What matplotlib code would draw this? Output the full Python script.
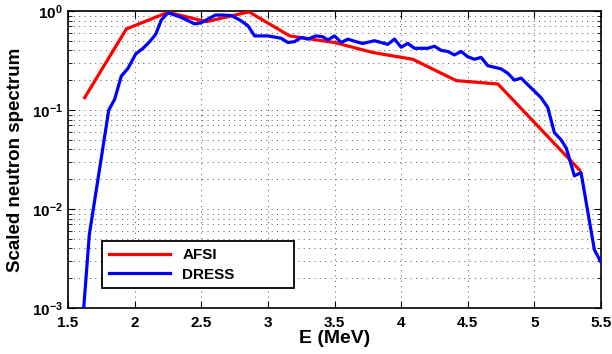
import math
import matplotlib
matplotlib.use('Agg')
import matplotlib.pyplot as plt
from matplotlib.ticker import FixedLocator, LogLocator, FuncFormatter, NullFormatter

plt.rcParams['font.family'] = ['Liberation Sans', 'DejaVu Sans']
plt.rcParams['font.weight'] = 'bold'
plt.rcParams['mathtext.fontset'] = 'custom'
plt.rcParams['mathtext.rm'] = 'Liberation Sans:bold'
plt.rcParams['mathtext.bf'] = 'Liberation Sans:bold'
plt.rcParams['mathtext.it'] = 'Liberation Sans:bold'

# AFSI spectrum (polyline vertices)
afsi_E = [1.625, 1.938, 2.25, 2.538, 2.858, 3.163, 3.5, 3.79, 4.088, 4.413, 4.726, 5.338]
afsi_S = [0.133, 0.658, 0.97, 0.78, 0.98, 0.56, 0.48, 0.38, 0.325, 0.198, 0.183, 0.0248]

# DRESS spectrum
dress_E = [1.618, 1.66, 1.806, 1.85, 1.9, 1.95, 2.008, 2.063, 2.113, 2.158, 2.2, 2.25,
           2.3, 2.35, 2.4, 2.45, 2.5, 2.55, 2.608, 2.66, 2.725, 2.79, 2.85, 2.9,
           3.0, 3.1, 3.15, 3.2, 3.25, 3.3, 3.36, 3.41, 3.45, 3.5, 3.55, 3.6,
           3.66, 3.71, 3.8, 3.85, 3.9, 3.95, 4.0, 4.05, 4.1, 4.2, 4.25, 4.3,
           4.35, 4.4, 4.45, 4.5, 4.55, 4.6, 4.65, 4.7, 4.75, 4.8, 4.85, 4.9,
           4.95, 5.0, 5.05, 5.1, 5.15, 5.2, 5.24, 5.3, 5.35, 5.45, 5.5]
dress_S = [0.001, 0.0055, 0.1, 0.128, 0.22, 0.263, 0.368, 0.42, 0.49, 0.58, 0.81, 0.96,
           0.91, 0.86, 0.80, 0.74, 0.76, 0.83, 0.91, 0.91, 0.90, 0.81, 0.71, 0.56,
           0.56, 0.53, 0.48, 0.49, 0.54, 0.52, 0.56, 0.55, 0.51, 0.56, 0.48, 0.52,
           0.49, 0.47, 0.50, 0.48, 0.46, 0.52, 0.43, 0.47, 0.42, 0.42, 0.44, 0.40,
           0.39, 0.36, 0.39, 0.345, 0.325, 0.34, 0.28, 0.27, 0.26, 0.235, 0.20, 0.21,
           0.18, 0.155, 0.133, 0.106, 0.059, 0.05, 0.041, 0.0216, 0.0233, 0.00386, 0.0029]

x_ticks = [1.5, 2, 2.5, 3, 3.5, 4, 4.5, 5, 5.5]
x_labels = ['1.5', '2', '2.5', '3', '3.5', '4', '4.5', '5', '5.5']

fig = plt.figure(figsize=(6.12, 3.54), dpi=100)
ax = fig.add_axes([0.1111, 0.13, 0.871, 0.839])

ax.semilogy(afsi_E, afsi_S, color='#ff0000', lw=2.3, label='AFSI', zorder=3)
ax.semilogy(dress_E, dress_S, color='#0000ff', lw=2.3, label='DRESS', zorder=3)

ax.set_xlim(1.5, 5.5)
ax.set_ylim(1e-3, 1)
ax.xaxis.set_major_locator(FixedLocator(x_ticks))
ax.set_xticklabels(x_labels)
ax.yaxis.set_major_locator(FixedLocator([1e-3, 1e-2, 1e-1, 1]))
ax.yaxis.set_major_formatter(FuncFormatter(lambda v, p: r'$10^{%d}$' % round(math.log10(v))))
ax.yaxis.set_minor_locator(LogLocator(base=10, subs=range(2, 10)))
ax.yaxis.set_minor_formatter(NullFormatter())

ax.tick_params(which='both', direction='in', top=True, right=True, labelsize=11)
ax.tick_params(which='major', length=5, width=0.8)
ax.tick_params(which='minor', length=3, width=0.6)
ax.tick_params(axis='x', pad=6)

grid_style = dict(linestyle=(0, (1, 4.5)), color='#555555', lw=0.7)
ax.grid(True, which='major', axis='both', **grid_style)
ax.grid(True, which='minor', axis='y', **grid_style)

for s in ax.spines.values():
    s.set_linewidth(1.2)

ax.set_xlabel('E (MeV)', fontsize=14, fontweight='bold', labelpad=0)
ax.set_ylabel('Scaled neutron spectrum', fontsize=13.5, fontweight='bold', labelpad=6)

leg = ax.legend(loc='lower left', bbox_to_anchor=(0.064, 0.066, 0.36, 0.158), mode='expand',
                fontsize=11, frameon=True, fancybox=False, edgecolor='black', framealpha=1,
                handlelength=4.0, borderaxespad=0, borderpad=0.45, labelspacing=0.35)
leg.get_frame().set_linewidth(1.3)

fig.savefig('out.png', dpi=100)
